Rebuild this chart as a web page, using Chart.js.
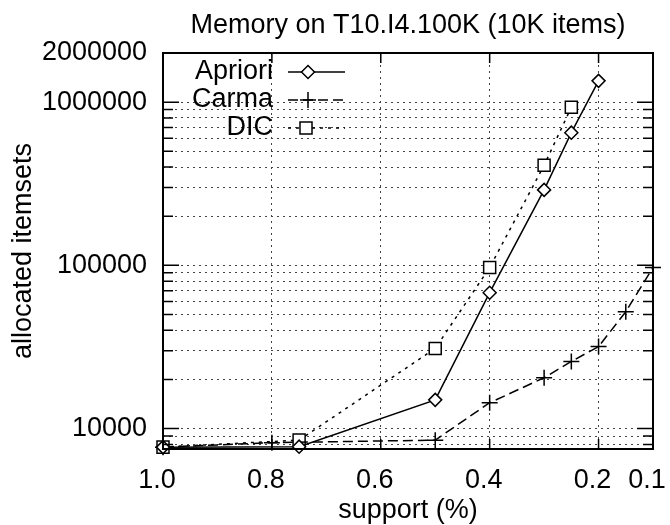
<!DOCTYPE html>
<html>
<head>
<meta charset="utf-8">
<script src="https://cdn.jsdelivr.net/npm/chart.js@4/dist/chart.umd.min.js"></script>
<style>
  html, body { margin: 0; padding: 0; background: #fff; }
  #wrap { width: 670px; height: 525px; }
</style>
</head>
<body>
<div id="wrap"><canvas id="grafico" width="670" height="525"></canvas></div>
<script>
// datos
const soporteApriori = [1.0, 0.75, 0.5, 0.4, 0.3, 0.25, 0.2];
const valoresApriori = [7700, 7750, 15000, 68000, 290000, 650000, 1350000];
const soporteCarma = [1.0, 0.8, 0.5, 0.4, 0.3, 0.25, 0.2, 0.15, 0.1];
const valoresCarma = [7700, 8200, 8500, 14400, 20500, 25800, 31800, 52000, 97000];
const soporteDIC = [1.0, 0.75, 0.5, 0.4, 0.3, 0.25];
const valoresDIC = [7700, 8500, 31000, 97000, 410000, 930000];

const ticksX = [1.0, 0.8, 0.6, 0.4, 0.2, 0.1];
const ticksY = [8000, 9000, 10000, 20000, 30000, 40000, 50000, 60000, 70000, 80000, 90000,
    100000, 200000, 300000, 400000, 500000, 600000, 700000, 800000, 900000, 1000000, 2000000];
const etiquetasY = [10000, 100000, 1000000, 2000000];

const fuente = "'Liberation Sans', Arial, sans-serif";
const puntos = (xs, ys) => xs.map((s, i) => ({ x: s, y: ys[i] }));

const series = [
    { label: 'Apriori', data: puntos(soporteApriori, valoresApriori), dash: [], estilo: 'rectRot', radio: 6.5 },
    { label: 'Carma', data: puntos(soporteCarma, valoresCarma), dash: [10, 5], estilo: 'cross', radio: 8 },
    { label: 'DIC', data: puntos(soporteDIC, valoresDIC), dash: [3, 5], estilo: 'rect', radio: 8.5 }
];

function dibujarMarcador(ctx, estilo, x, y, r) {
    ctx.beginPath();
    if (estilo === 'rectRot') {
        ctx.moveTo(x, y - r); ctx.lineTo(x + r, y); ctx.lineTo(x, y + r); ctx.lineTo(x - r, y); ctx.closePath();
        ctx.fill(); ctx.stroke();
    } else if (estilo === 'rect') {
        const s = r * Math.SQRT1_2;
        ctx.rect(x - s, y - s, 2 * s, 2 * s);
        ctx.fill(); ctx.stroke();
    } else {
        ctx.moveTo(x - r, y); ctx.lineTo(x + r, y);
        ctx.moveTo(x, y - r); ctx.lineTo(x, y + r);
        ctx.stroke();
    }
}

const leyenda = {
    id: 'leyenda',
    afterDatasetsDraw(chart) {
        const ctx = chart.ctx;
        const filas = [72, 100, 128];
        const marcaX = [308, 308, 306];
        ctx.save();
        ctx.font = '27px ' + fuente;
        ctx.textAlign = 'right';
        ctx.textBaseline = 'middle';
        series.forEach((s, i) => {
            const y = filas[i];
            ctx.fillStyle = '#000';
            ctx.fillText(s.label, 273, y);
            ctx.strokeStyle = '#000';
            ctx.lineWidth = 1.5;
            ctx.setLineDash(s.dash);
            ctx.beginPath(); ctx.moveTo(288, y); ctx.lineTo(345, y); ctx.stroke();
            ctx.setLineDash([]);
            ctx.fillStyle = '#fff';
            dibujarMarcador(ctx, s.estilo, marcaX[i], y, s.radio);
        });
        ctx.restore();
    }
};

const marco = {
    id: 'marco',
    afterDatasetsDraw(chart) {
        const { ctx, chartArea: a, scales: { x, y } } = chart;
        ctx.save();
        ctx.strokeStyle = '#000';
        ctx.lineWidth = 2;
        ctx.strokeRect(a.left, a.top, a.right - a.left, a.bottom - a.top);
        ctx.lineWidth = 1.5;
        ctx.beginPath();
        ticksY.forEach(v => {
            const py = y.getPixelForValue(v);
            const largo = etiquetasY.includes(v) ? 16 : 10;
            ctx.moveTo(a.left, py); ctx.lineTo(a.left + largo, py);
            ctx.moveTo(a.right, py); ctx.lineTo(a.right - largo, py);
        });
        ticksX.forEach(v => {
            const px = x.getPixelForValue(v);
            ctx.moveTo(px, a.bottom); ctx.lineTo(px, a.bottom - 10);
            ctx.moveTo(px, a.top); ctx.lineTo(px, a.top + 10);
        });
        ctx.stroke();
        ctx.restore();
    }
};

new Chart(document.getElementById('grafico').getContext('2d'), {
    type: 'line',
    data: {
        datasets: series.map(s => ({
            label: s.label,
            data: s.data,
            borderColor: '#000',
            borderWidth: 1.5,
            borderDash: s.dash,
            tension: 0,
            pointStyle: s.estilo,
            pointRadius: s.radio,
            pointBorderColor: '#000',
            pointBorderWidth: 1.5,
            pointBackgroundColor: '#fff',
            clip: 10
        }))
    },
    options: {
        responsive: false,
        animation: false,
        devicePixelRatio: 1,
        layout: { padding: { left: 0, right: 17, top: 0, bottom: 0 } },
        plugins: {
            legend: { display: false },
            tooltip: { enabled: false },
            title: {
                display: true,
                text: 'Memory on T10.I4.100K (10K items)',
                fullSize: false,
                color: '#000',
                font: { family: fuente, size: 27, weight: 'normal', lineHeight: 1.2 },
                padding: { top: 9, bottom: 11.6 }
            }
        },
        scales: {
            x: {
                type: 'linear',
                reverse: true,
                min: 0.1,
                max: 1.0,
                afterBuildTicks: s => { s.ticks = ticksX.map(v => ({ value: v })); },
                afterFit: s => { s.height = 76; s.paddingLeft = 0; s.paddingRight = 0; },
                ticks: {
                    autoSkip: false,
                    maxRotation: 0,
                    padding: 15,
                    labelOffset: -6,
                    color: '#000',
                    font: { family: fuente, size: 27 },
                    callback: v => Number(v).toFixed(1)
                },
                grid: { color: '#444', lineWidth: 1, drawTicks: false },
                border: { display: false, dash: [2, 4] },
                title: {
                    display: true,
                    text: 'support (%)',
                    color: '#000',
                    font: { family: fuente, size: 27, lineHeight: 1.2 },
                    padding: { top: 0, bottom: -2 }
                }
            },
            y: {
                type: 'logarithmic',
                min: 7500,
                max: 2000000,
                afterBuildTicks: s => { s.ticks = ticksY.map(v => ({ value: v })); },
                afterFit: s => { s.width = 163; },
                ticks: {
                    autoSkip: false,
                    padding: 16,
                    color: '#000',
                    font: { family: fuente, size: 27 },
                    callback: v => etiquetasY.includes(v) ? String(v) : ''
                },
                grid: { color: '#444', lineWidth: 1, drawTicks: false },
                border: { display: false, dash: [2, 4] },
                title: {
                    display: true,
                    text: 'allocated itemsets',
                    color: '#000',
                    font: { family: fuente, size: 27, lineHeight: 1.2 },
                    padding: { top: 7, bottom: 0 }
                }
            }
        }
    },
    plugins: [marco, leyenda]
});
</script>
</body>
</html>
